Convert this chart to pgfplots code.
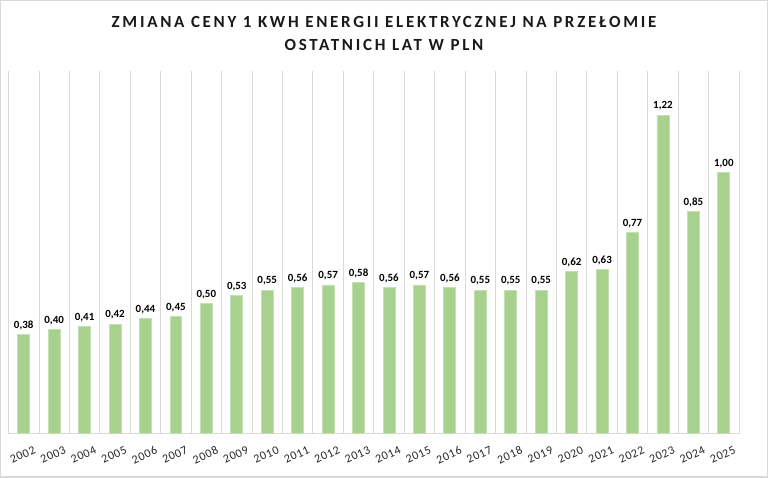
\documentclass[border=0pt]{standalone}
\usepackage{pgfplots}
\pgfplotsset{compat=1.18}
\usepackage{fontspec}
\setmainfont{Carlito}
\newfontfamily\titlefont[LetterSpace=16]{Carlito}
\newfontfamily\tickfont[LetterSpace=6]{Carlito}
\definecolor{bargreen}{HTML}{A9D18E}
\definecolor{barline}{HTML}{C5E0B4}
\definecolor{gridgray}{HTML}{D9D9D9}

\begin{document}
\begin{tikzpicture}[x=1bp,y=1bp]
\draw[gridgray, line width=1.5bp, use as bounding box] (0,0) rectangle (768,477);
\node[font=\titlefont\bfseries\fontsize{17bp}{23bp}\selectfont, align=center, text=black!90] at (384,444) {ZMIANA CENY 1 KWH ENERGII ELEKTRYCZNEJ NA PRZEŁOMIE\\OSTATNICH LAT W PLN};
\begin{axis}[
    at={(23bp,43bp)}, anchor=origin,
    scale only axis,
    width=732bp, height=364bp,
    xmin=-0.5, xmax=23.5,
    ymin=0, ymax=1.39,
    axis x line*=bottom,
    axis y line=none,
    x axis line style={gridgray, line width=1bp},
    xtick={0,...,23},
    xticklabels={2002,2003,2004,2005,2006,2007,2008,2009,2010,2011,2012,2013,2014,2015,2016,2017,2018,2019,2020,2021,2022,2023,2024,2025},
    minor xtick={-0.5,0.5,...,23.5},
    xminorgrids=true,
    minor grid style={gridgray, line width=0.8bp},
    major tick length=0pt, minor tick length=0pt,
    xticklabel style={font=\tickfont\fontsize{12bp}{13bp}\selectfont, rotate=25, anchor=north east, xshift=7bp, yshift=-11bp, text=black!85},
    /pgf/number format/assume math mode=true,
    ybar, bar width=12bp,
    nodes near coords={\pgfmathprintnumber[fixed, fixed zerofill, precision=2, use comma]{\pgfplotspointmeta}},
    every node near coord/.append style={font=\bfseries\fontsize{11bp}{12bp}\selectfont, text=black, yshift=1bp},
]
\addplot[fill=bargreen, draw=barline, line width=0.8bp] coordinates {
(0,0.38) (1,0.40) (2,0.41) (3,0.42) (4,0.44) (5,0.45) (6,0.50) (7,0.53)
(8,0.55) (9,0.56) (10,0.57) (11,0.58) (12,0.56) (13,0.57) (14,0.56) (15,0.55)
(16,0.55) (17,0.55) (18,0.62) (19,0.63) (20,0.77) (21,1.22) (22,0.85) (23,1.00)
};
\end{axis}
\end{tikzpicture}
\end{document}
